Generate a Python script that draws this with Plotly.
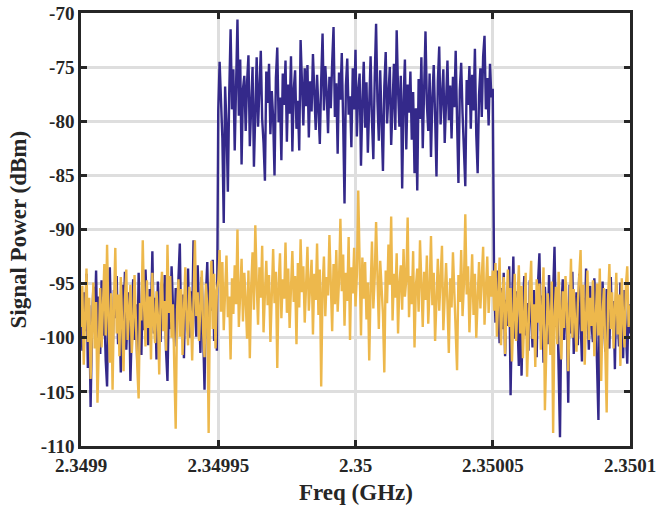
import numpy as np
import plotly.graph_objects as go

# Frequency axis (GHz)
f_start = 2.3499
f_stop = 2.3501
n_points = 401

x_tick_vals = [2.3499, 2.34995, 2.35, 2.35005, 2.3501]
x_tick_text = ["2.3499", "2.34995", "2.35", "2.35005", "2.3501"]
y_tick_vals = [-110, -105, -100, -95, -90, -85, -80, -75, -70]
y_tick_text = ["-110", "-105", "-100", "-95", "-90", "-85", "-80", "-75", "-70"]
x_title = "Freq (GHz)"
y_title = "Signal Power (dBm)"

# Series 1 (dark blue): signal present
blue_power = [
    -97.5, -101.2, -95.8, -99.4, -94.1, -102.8, -97.0, -106.4, -99.1, -95.3,
    -98.6, -93.8, -100.9, -96.2, -101.5, -94.7, -99.8, -97.3, -102.1, -104.5,
    -96.4, -93.5, -99.0, -101.8, -95.6, -98.2, -94.3, -100.6, -97.9, -103.2,
    -95.1, -99.5, -93.9, -101.1, -97.4, -95.8, -104.0, -98.3, -94.6, -100.2,
    -96.9, -102.4, -94.0, -98.8, -101.6, -95.2, -99.3, -93.7, -97.6, -100.7,
    -95.5, -98.1, -92.0, -99.6, -96.3, -102.0, -94.8, -97.7, -100.4, -95.0,
    -98.9, -94.2, -101.3, -104.0, -96.6, -99.2, -93.4, -97.1, -100.8, -95.4,
    -98.0, -94.5, -91.3, -99.7, -96.0, -101.9, -94.9, -97.8, -93.6, -100.0,
    -95.7, -98.4, -91.0, -96.8, -99.9, -93.3, -97.2, -101.4, -94.4, -98.5,
    -104.8, -96.1, -93.0, -99.3, -95.9, -97.5, -92.8, -100.3, -96.7, -101.2,
    -79.0, -74.5, -78.2, -81.6, -89.4, -76.8, -80.3, -86.5, -77.4, -71.5,
    -78.9, -75.2, -82.7, -76.1, -70.6, -79.5, -74.3, -84.0, -77.0, -75.8,
    -80.9, -76.4, -73.9, -82.3, -78.7, -75.0, -84.2, -77.6, -74.1, -80.5,
    -76.9, -73.5, -79.8, -82.0, -85.5, -75.4, -78.3, -74.7, -81.2, -77.2,
    -79.7, -85.0, -76.0, -73.2, -80.1, -77.8, -83.6, -75.6, -78.5, -74.4,
    -81.9, -76.6, -79.3, -74.0, -82.8, -77.1, -75.3, -80.7, -78.1, -82.7,
    -72.5, -77.9, -80.4, -75.1, -78.6, -74.8, -81.5, -76.3, -79.1, -73.8,
    -77.5, -80.8, -75.7, -78.4, -82.1, -76.2, -71.9, -79.0, -74.9, -77.3,
    -81.1, -75.9, -78.8, -74.6, -71.3, -79.6, -76.5, -83.0, -75.5, -78.0,
    -73.7, -80.0, -87.6, -76.7, -74.2, -79.4, -77.7, -82.4, -75.1, -78.9,
    -73.4, -81.4, -77.2, -75.6, -84.1, -78.3, -74.5, -80.6, -76.4, -82.9,
    -77.8, -74.0, -79.9, -83.5, -76.0, -71.0, -78.2, -81.8, -75.3, -79.7,
    -84.6, -76.8, -73.6, -80.2, -77.4, -75.0, -82.2, -78.6, -74.7, -80.8,
    -71.6, -77.1, -80.5, -75.8, -86.2, -78.1, -74.3, -82.6, -76.6, -79.2,
    -75.4, -81.7, -77.3, -84.8, -78.8, -86.4, -76.1, -79.8, -74.1, -82.5,
    -77.0, -71.7, -78.4, -80.9, -75.6, -83.3, -77.9, -74.8, -79.5, -85.1,
    -76.3, -73.1, -80.3, -78.0, -75.2, -82.0, -77.5, -74.4, -79.9, -76.7,
    -81.6, -75.9, -78.7, -73.5, -80.0, -85.7, -77.1, -74.6, -79.3, -82.8,
    -86.0, -76.2, -78.5, -74.9, -80.7, -75.7, -79.0, -73.3, -81.3, -84.8,
    -77.6, -75.1, -79.6, -74.0, -72.1, -78.9, -76.0, -80.4, -74.7, -77.8,
    -77.0,
    -95.0, -98.6, -93.8, -97.1, -100.5, -95.4, -99.2, -94.0, -101.7, -96.5,
    -98.9, -93.4, -105.3, -97.6, -92.5, -100.1, -95.7, -98.3, -102.6, -96.2,
    -103.5, -97.0, -94.3, -99.8, -96.8, -101.2, -94.7, -98.0, -100.9, -95.6,
    -97.7, -101.8, -94.9, -92.2, -99.4, -96.1, -102.3, -95.3, -98.7, -100.6,
    -94.2, -97.4, -101.0, -95.9, -91.6, -99.0, -96.4, -103.0, -109.2, -97.3,
    -94.6, -100.2, -96.7, -98.2, -106.0, -95.1, -99.6, -93.9, -101.5, -97.9,
    -95.8, -100.7, -94.1, -98.5, -102.2, -96.3, -99.3, -93.6, -97.2, -101.1,
    -95.2, -98.8, -100.4, -94.5, -97.5, -103.8, -107.6, -96.0, -99.7, -94.8,
    -98.1, -101.3, -95.5, -97.8, -101.0, -94.4, -99.1, -96.6, -102.9, -95.0,
    -98.4, -100.8, -94.9, -97.0, -101.9, -95.6, -99.5, -102.4, -96.9, -99.6,
]

# Series 2 (yellow): noise floor
yellow_power = [
    -99.0, -95.2, -102.5, -97.1, -93.6, -100.4, -96.3, -103.8, -98.2, -94.9,
    -101.0, -96.7, -106.0, -99.3, -95.4, -100.9, -97.5, -93.2, -99.8, -91.4,
    -98.1, -102.3, -95.9, -104.8, -97.0, -91.7, -99.6, -96.0, -101.7, -94.4,
    -98.7, -103.1, -96.5, -93.7, -100.2, -97.8, -95.1, -101.4, -98.9, -94.2,
    -99.7, -102.7, -105.6, -96.8, -98.4, -91.0, -97.3, -100.8, -94.7, -99.1,
    -96.2, -102.0, -94.0, -98.6, -100.5, -95.7, -97.9, -103.4, -96.0, -93.9,
    -99.4, -96.6, -101.2, -91.4, -97.7, -94.3, -100.0, -96.9, -102.8, -108.4,
    -97.4, -94.6, -99.9, -95.5, -101.6, -97.2, -93.5, -98.3, -100.7, -95.3,
    -97.6, -102.1, -94.8, -91.0, -98.0, -95.8, -100.3, -96.4, -93.8, -99.5,
    -101.8, -95.0, -97.1, -108.8, -96.1, -92.9, -99.2, -94.1, -101.0, -95.6,
    -94.8, -91.9, -97.6, -93.0, -99.3, -95.7, -92.4, -98.1, -96.2, -102.0,
    -94.5, -97.8, -93.3, -96.9, -90.0, -99.0, -95.1, -92.7, -98.5, -94.0,
    -96.6, -100.1, -93.8, -101.9, -95.3, -92.1, -97.4, -89.6, -94.9, -98.8,
    -93.5, -96.3, -91.5, -99.5, -95.9, -92.9, -97.0, -94.2, -100.4, -95.6,
    -91.8, -96.8, -93.9, -102.8, -95.0, -92.2, -98.2, -94.6, -96.4, -91.2,
    -97.7, -93.6, -99.1, -95.4, -92.0, -96.7, -94.3, -100.6, -93.1, -97.2,
    -90.9, -95.8, -93.4, -98.6, -94.8, -91.6, -97.5, -95.2, -92.8, -99.7,
    -94.1, -96.5, -91.3, -97.9, -93.7, -104.5, -95.5, -92.5, -98.0, -94.4,
    -96.1, -90.5, -95.0, -99.4, -93.2, -96.9, -91.9, -97.6, -94.7, -89.0,
    -95.7, -92.3, -98.9, -94.0, -96.6, -90.7, -100.2, -93.5, -95.9, -91.7,
    -97.1, -94.2, -86.4, -95.3, -99.8, -92.6, -96.4, -93.0, -98.3, -94.9,
    -102.1, -95.6, -91.1, -97.3, -94.4, -89.3, -96.0, -99.2, -92.9, -95.4,
    -97.8, -103.2, -93.8, -96.8, -91.4, -95.1, -88.8, -98.4, -94.1, -96.3,
    -92.2, -99.6, -95.0, -93.3, -97.4, -91.8, -96.2, -94.6, -88.9, -98.1,
    -94.3, -96.9, -92.0, -100.9, -95.2, -93.6, -97.6, -91.0, -95.8, -99.0,
    -93.9, -96.5, -92.4, -98.7, -95.5, -90.6, -97.0, -94.0, -100.3, -95.9,
    -92.7, -97.5, -94.8, -91.5, -99.3, -95.3, -93.1, -96.8, -101.4, -94.5,
    -97.2, -92.1, -95.6, -98.5, -103.0, -94.2, -96.7, -91.9, -98.0, -95.0,
    -88.6, -96.0, -93.4, -99.5, -95.7, -92.3, -97.9, -94.1, -100.0, -96.4,
    -93.0, -97.3, -94.9, -91.6, -98.8, -95.4, -92.5, -97.7, -94.3, -96.2,
    -93.8,
    -97.5, -93.1, -99.9, -95.8, -92.6, -100.7, -96.2, -94.4, -101.5, -97.3,
    -93.7, -99.0, -95.4, -102.2, -97.8, -94.1, -100.3, -96.6, -93.3, -99.6,
    -95.2, -101.9, -97.1, -94.0, -103.6, -98.2, -95.6, -92.9, -100.1, -96.9,
    -102.7, -94.6, -98.6, -95.0, -101.1, -97.4, -93.5, -106.7, -99.3, -95.9,
    -97.9, -101.6, -94.8, -108.8, -98.0, -95.3, -100.6, -93.9, -97.6, -102.0,
    -95.7, -99.1, -94.3, -97.0, -103.1, -96.1, -92.7, -100.0, -95.5, -98.4,
    -101.3, -96.8, -94.2, -91.9, -99.4, -95.1, -102.5, -97.7, -93.8, -100.2,
    -96.3, -98.9, -94.7, -101.7, -97.2, -95.0, -99.8, -93.6, -104.0, -97.9,
    -95.4, -100.5, -106.9, -96.5, -93.2, -99.2, -95.8, -101.0, -97.4, -94.0,
    -99.7, -96.0, -102.6, -94.5, -98.1, -100.9, -95.2, -93.4, -99.0, -97.0,
]

freq = np.linspace(f_start, f_stop, n_points)

FONT = "Liberation Serif, Times New Roman, serif"
TEXT_COLOR = "#262626"
AXIS_COLOR = "#262626"
GRID_COLOR = "#dedede"

fig = go.Figure()
fig.add_trace(go.Scatter(x=freq, y=blue_power, mode="lines",
                         line=dict(color="#34298A", width=2.4), showlegend=False))
fig.add_trace(go.Scatter(x=freq, y=yellow_power, mode="lines",
                         line=dict(color="#EDB84C", width=2.4), showlegend=False))

fig.update_layout(
    width=659, height=506,
    margin=dict(l=81, r=29, t=13, b=60, autoexpand=False),
    paper_bgcolor="white", plot_bgcolor="white",
    font=dict(family=FONT, color=TEXT_COLOR),
)
fig.update_xaxes(
    range=[f_start, f_stop], automargin=False,
    tickmode="array", tickvals=x_tick_vals, ticktext=x_tick_text,
    tickfont=dict(family=FONT, size=19, color=TEXT_COLOR, weight="bold"),
    showgrid=True, gridcolor=GRID_COLOR, gridwidth=2.5,
    showline=True, linecolor=AXIS_COLOR, linewidth=2.5, mirror="ticks",
    ticks="inside", ticklen=6, tickwidth=2.5, tickcolor=AXIS_COLOR,
    zeroline=False,
)
fig.update_yaxes(
    range=[-110, -70], automargin=False,
    tickmode="array", tickvals=y_tick_vals, ticktext=y_tick_text,
    tickfont=dict(family=FONT, size=19, color=TEXT_COLOR, weight="bold"),
    showgrid=True, gridcolor=GRID_COLOR, gridwidth=2.5,
    showline=True, linecolor=AXIS_COLOR, linewidth=2.5, mirror="ticks",
    ticks="inside", ticklen=6, tickwidth=2.5, tickcolor=AXIS_COLOR,
    zeroline=False,
)

# Axis titles as annotations for exact placement
fig.add_annotation(text=x_title, xref="paper", yref="paper", x=0.5, y=0,
                   xanchor="center", yanchor="middle", yshift=-46, showarrow=False,
                   font=dict(family=FONT, size=23, color=TEXT_COLOR, weight="bold"))
fig.add_annotation(text=y_title, xref="paper", yref="paper", x=0, y=0.5,
                   xanchor="center", yanchor="middle", xshift=-63, textangle=-90,
                   showarrow=False,
                   font=dict(family=FONT, size=23, color=TEXT_COLOR, weight="bold"))

# Remove the default 8 px page margin so the figure fills the window exactly
fig.write_html("out.html", config={"displayModeBar": False},
               post_script="document.body.style.margin='0';")
